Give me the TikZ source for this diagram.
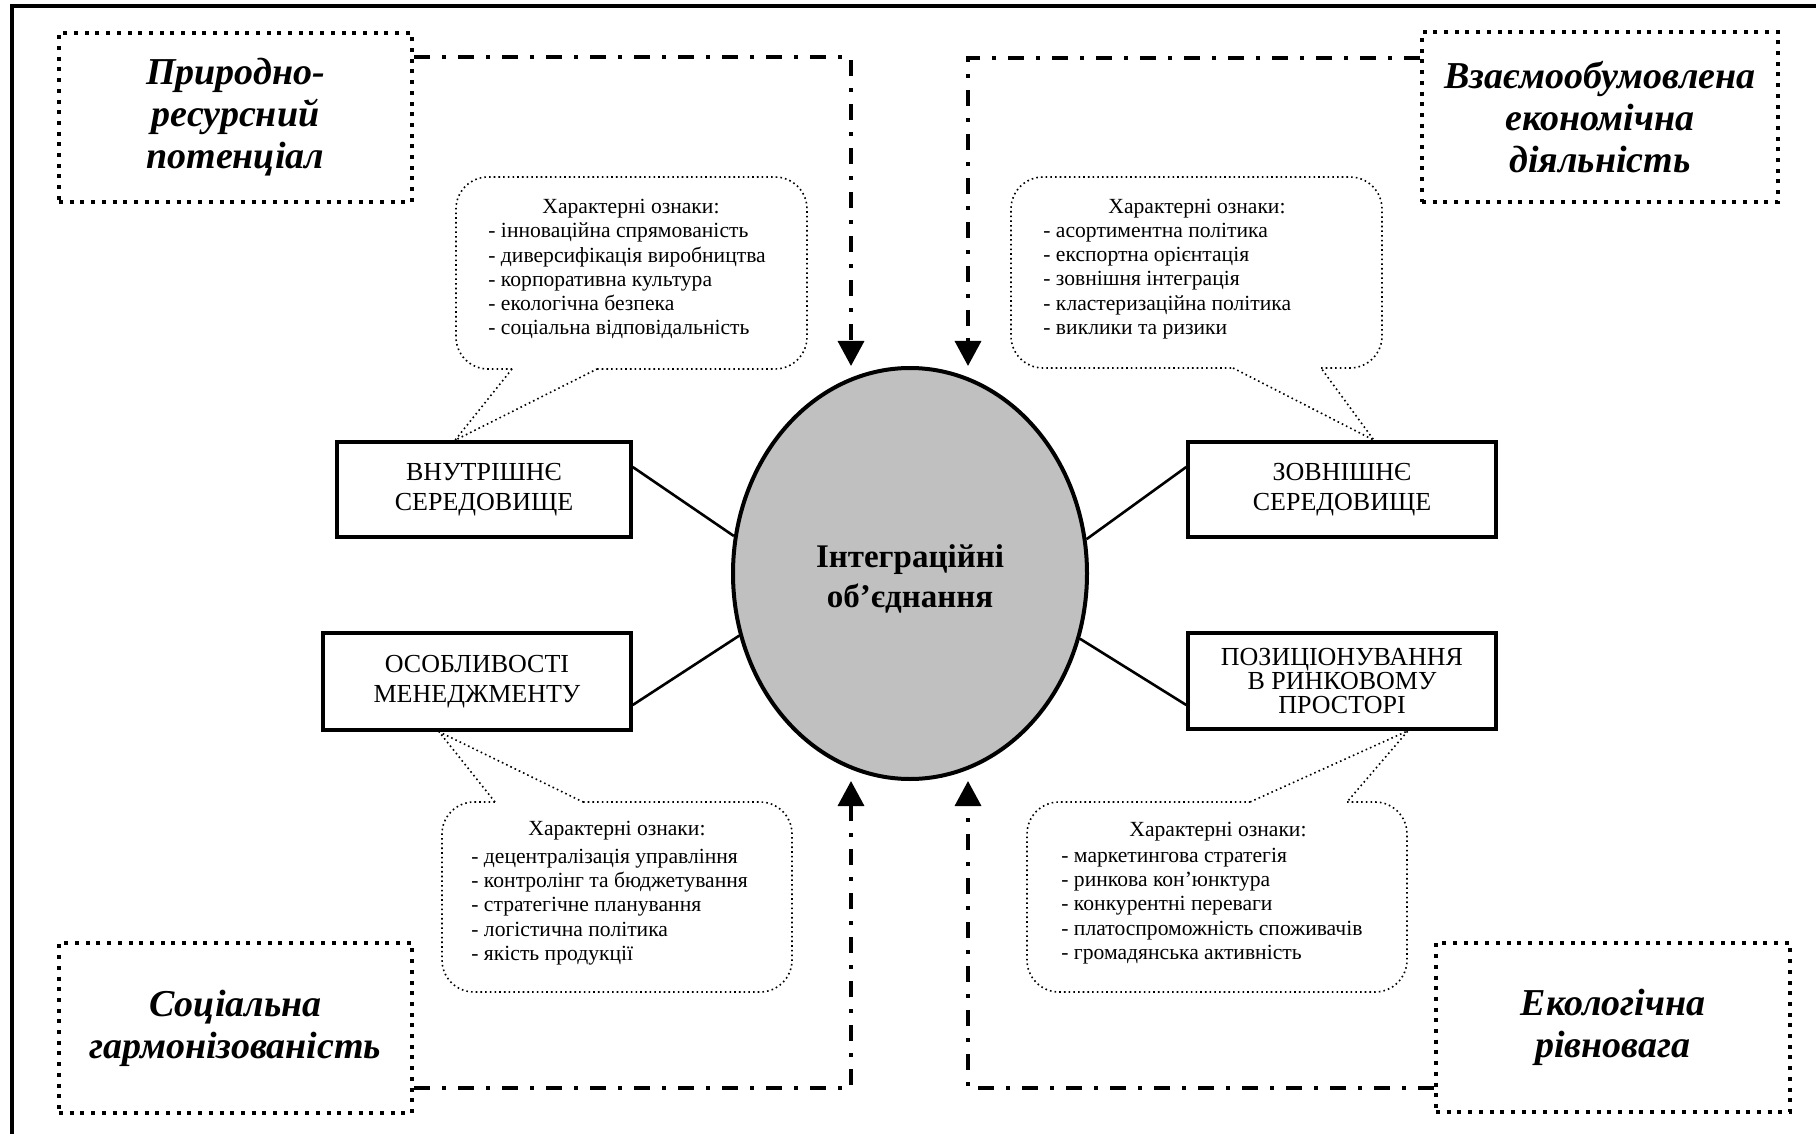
\documentclass[tikz,border=0pt]{standalone}
\usepackage{fontspec}
\setmainfont{Liberation Serif}
\usetikzlibrary{arrows.meta,shapes.geometric}
\definecolor{ellgray}{HTML}{C0C0C0}
\begin{document}
\begin{tikzpicture}[x=0.5pt,y=-0.5pt,
  titlebox/.style={draw, line width=2pt, dash pattern=on 2pt off 3.35pt, inner sep=0pt,
    align=center, font=\fontsize{19}{21}\selectfont\bfseries\itshape},
  rbox/.style={draw, line width=1.75pt, inner sep=0pt, align=center,
    font=\fontsize{13}{15}\selectfont},
  bubble/.style={line width=0.8pt, dash pattern=on 0.8pt off 1.55pt},
  btitle/.style={inner sep=0pt, font=\fontsize{10.8}{12.1}\selectfont},
  blist/.style={inner sep=0pt, anchor=west, align=left, font=\fontsize{10.8}{12.1}\selectfont},
  dd/.style={line width=1.75pt, dash pattern=on 8pt off 6pt on 2pt off 6pt,
    -{Triangle[width=13pt,length=12.5pt]}},
  conn/.style={line width=1.3pt},
  frameline/.style={line width=1.75pt}
]
\useasboundingbox (0,0) rectangle (1816,1134);

% frame
\draw[frameline] (12,1134) -- (12,6) -- (1816,6);

% title boxes
\node[titlebox, minimum width=176.5pt, minimum height=84.5pt] (tl) at (235.5,117.5)
  {Природно-\\ресурсний\\потенціал};
\node[titlebox, minimum width=178pt, minimum height=85pt] (tr) at (1600,117)
  {Взаємообумовлена\\економічна\\діяльність};
\node[titlebox, minimum width=176.5pt, minimum height=85pt] (bl) at (235.5,1028)
  {Соціальна\\гармонізованість};
\node[titlebox, minimum width=177pt, minimum height=84.5pt] (br) at (1613,1027.5)
  {Екологічна\\рівновага};

% central ellipse
\node[ellipse, draw, line width=2pt, fill=ellgray, minimum width=177pt, minimum height=205.5pt,
  inner sep=0pt, font=\fontsize{16.5}{20}\selectfont\bfseries] (c) at (910,573.5)
  {\raisebox{-3pt}[\height][\depth]{\begin{tabular}{@{}c@{}}Інтеграційні\\об’єднання\end{tabular}}};

% solid boxes
\node[rbox, minimum width=147pt, minimum height=47.5pt] (b1) at (484,489.5)
  {ВНУТРІШНЄ\\СЕРЕДОВИЩЕ};
\node[rbox, minimum width=154pt, minimum height=48.5pt] (b2) at (477,681.5)
  {ОСОБЛИВОСТІ\\МЕНЕДЖМЕНТУ};
\node[rbox, minimum width=154pt, minimum height=47.5pt] (b3) at (1342,489.5)
  {ЗОВНІШНЄ\\СЕРЕДОВИЩЕ};
\node[rbox, minimum width=154pt, minimum height=48pt, font=\fontsize{13}{12}\selectfont] (b4) at (1342,681)
  {ПОЗИЦІОНУВАННЯ\\В РИНКОВОМУ\\ПРОСТОРІ};

% connectors box - ellipse
\draw[conn] ([yshift=11.25pt]b1.east) -- (c.168.5);
\draw[conn] ([yshift=-11.75pt]b2.east) -- (c.200.3);
\draw[conn] ([yshift=11.25pt]b3.west) -- (c.11.8);
\draw[conn] ([yshift=-12pt]b4.west) -- (c.339.8);

% dash-dot arrows
\coordinate (k1) at (851,57);
\coordinate (k2) at (968,58);
\coordinate (k3) at (851,1088);
\coordinate (k4) at (968,1088);
\draw[dd] (tl.east |- k1) -- (k1) -- (k1 |- c.north);
\draw[dd] (tr.west |- k2) -- (k2) -- (k2 |- c.north);
\draw[dd] (bl.east |- k3) -- (k3) -- (k3 |- c.south);
\draw[dd] (br.west |- k4) -- (k4) -- (k4 |- c.south);

% bubble 1
\coordinate (t1) at (b1.north -| 455,0);
\draw[bubble] (512,369) -- (t1) -- (597,369);
\draw[bubble, rounded corners=16pt] (597,369) -- (807,369) -- (807,177) -- (456,177) -- (456,369) -- (512,369);
\node[btitle] (q1) at (631,209) {Характерні ознаки:};
\node[blist] (l1) at (488,281) {- інноваційна спрямованість\\- диверсифікація виробництва\\- корпоративна культура\\- екологічна безпека\\- соціальна відповідальність};

% bubble 2
\coordinate (t2) at (b3.north -| 1374,0);
\draw[bubble] (1233,368) -- (t2) -- (1321,368);
\draw[bubble, rounded corners=16pt] (1321,368) -- (1382,368) -- (1382,177) -- (1011,177) -- (1011,368) -- (1233,368);
\node[btitle] (q2) at (1197,209) {Характерні ознаки:};
\node[blist] (l2) at (1043,281) {- асортиментна політика\\- експортна орієнтація\\- зовнішня інтеграція\\- кластеризаційна політика\\- виклики та ризики};

% bubble 3
\coordinate (t3) at (b2.south -| 439,0);
\draw[bubble] (495,802) -- (t3) -- (583,802);
\draw[bubble, rounded corners=16pt] (583,802) -- (792,802) -- (792,992) -- (442,992) -- (442,802) -- (495,802);
\node[btitle] (q3) at (617,831) {Характерні ознаки:};
\node[blist] (l3) at (471,907) {- децентралізація управління\\- контролінг та бюджетування\\- стратегічне планування\\- логістична політика\\- якість продукції};

% bubble 4
\coordinate (t4) at (b4.south -| 1408,0);
\draw[bubble] (1250,802) -- (t4) -- (1347,802);
\draw[bubble, rounded corners=16pt] (1347,802) -- (1407,802) -- (1407,992) -- (1027,992) -- (1027,802) -- (1250,802);
\node[btitle] (q4) at (1218,832) {Характерні ознаки:};
\node[blist] (l4) at (1061,906) {- маркетингова стратегія\\- ринкова кон’юнктура\\- конкурентні переваги\\- платоспроможність споживачів\\- громадянська активність};

\end{tikzpicture}
\end{document}
